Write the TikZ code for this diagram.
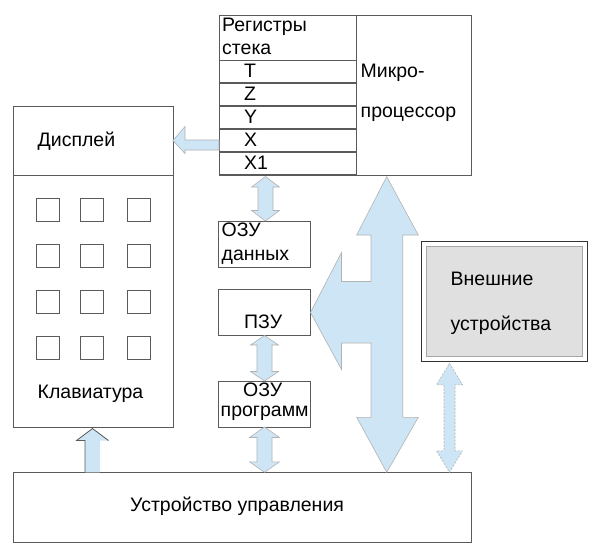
\documentclass[tikz,border=0pt]{standalone}
\usepackage{fontspec}
\setmainfont{Liberation Sans}
\usetikzlibrary{calc}
\definecolor{busblue}{RGB}{206,229,245}
\definecolor{devgray}{RGB}{224,224,224}
\definecolor{linegray}{RGB}{90,90,90}
\newcommand\vdarr[6][]{% style, top, bottom, body half, head half, head length
  \path[arr,#1] let \p1=(#2), \p2=(#3) in
    (\x1,\y1) -- (\x1+#5,\y1-#6) -- (\x1+#4,\y1-#6) -- (\x1+#4,\y2+#6)
    -- (\x1+#5,\y2+#6) -- (\x1,\y2) -- (\x1-#5,\y2+#6) -- (\x1-#4,\y2+#6)
    -- (\x1-#4,\y1-#6) -- (\x1-#5,\y1-#6) -- cycle;}
\begin{document}
\begin{tikzpicture}[x=1pt,y=-1pt,
  box/.style={draw=linegray, line width=0.8pt, fill=white, inner sep=0pt, outer sep=0pt, anchor=north west},
  txt/.style={font=\fontsize{19.5}{22}\selectfont, inner sep=0pt, anchor=base west},
  arr/.style={fill=busblue, draw=gray!60, line width=0.6pt, line join=miter},
  key/.style={draw=linegray, line width=0.7pt, inner sep=0pt, minimum size=23pt, anchor=north west}]
\useasboundingbox[fill=white] (0,0) rectangle (600,557);

% microprocessor
\node[box, minimum width=252pt, minimum height=160pt] (mp) at (219,15) {};
\node[box, minimum width=137pt, minimum height=45pt] (rhead) at (219,15) {};
\foreach \n/\t [count=\i from 0] in {rT/T,rZ/Z,rY/Y,rX/X,rXa/X1}{
  \node[box, minimum width=137pt, minimum height=22pt] (\n) at (219,60.5+23*\i) {};
  \node[txt, anchor=west] at ($(\n.west)+(25,-0.5)$) {\t};
}
\draw[linegray, line width=0.8pt] (rhead.north east) -- (mp.south -| rhead.east);
\node[txt] (t1) at (222,31.5) {Регистры};
\node[txt] (t2) at (222,54) {стека};
\node[txt] (t3) at (360.5,77) {Микро-};
\node[txt] (t4) at (360.5,117) {процессор};

% display and keyboard
\node[box, minimum width=160pt, minimum height=69pt] (disp) at (13,106) {};
\node[box, minimum width=160pt, minimum height=252pt] (kb) at (13,175) {};
\node[txt] at (37.5,146) {Дисплей};
\node[txt] at (37.5,398) {Клавиатура};
\foreach \c in {35.7,80.3,126.7}{
  \foreach \r in {197.5,243.5,289.5,335.5}{
    \node[key] at (\c,\r) {};
  }
}

% memory boxes
\node[box, minimum width=92pt, minimum height=46pt] (ozud) at (218.5,221) {};
\node[txt] at (221.5,236.5) {ОЗУ};
\node[txt] at (221.5,260) {данных};
\node[box, minimum width=92pt, minimum height=46pt] (pzu) at (218.5,289.5) {};
\node[txt] at (244,328.5) {ПЗУ};
\node[box, minimum width=92pt, minimum height=46pt] (ozup) at (218.5,381) {};
\node[txt] at (243,396.5) {ОЗУ};
\node[txt] at (220.5,416.5) {программ};

% control unit
\node[box, minimum width=458pt, minimum height=70pt] (uu) at (13,472.3) {};
\node[txt] at (130,511.5) {Устройство управления};

% external devices
\node[box, draw=black!80, minimum width=165.5pt, minimum height=119.5pt] (ext) at (421.7,241.7) {};
\node[box, draw=gray!70, fill=devgray, line width=1pt, minimum width=156pt, minimum height=110pt] (exti) at (426.7,246.7) {};
\node[txt] at (450.5,285) {Внешние};
\node[txt] at (450.5,330) {устройства};

% arrows: display <- register X
\path[arr] let \p1=(rX.west), \p2=(disp.east) in
  (\x1,\y1+0.5pt) -- (\x2+12pt,\y1+0.5pt) -- (\x2+12pt,\y1+14pt) -- (\x2,\y1) --
  (\x2+12pt,\y1-13pt) -- (\x2+12pt,\y1-9.5pt) -- (\x1,\y1-9.5pt) -- cycle;

% keyboard <- control unit
\coordinate (kbt) at (92.5,428.5);
\path[fill=busblue] let \p1=(kbt), \p2=(kbt|-uu.north) in
  (\x1,\y1) -- (\x1+16pt,\y1-12pt) -- (\x1+7.5pt,\y1-12pt) -- (\x1+7.5pt,\y2)
  -- (\x1-7.5pt,\y2) -- (\x1-7.5pt,\y1-12pt) -- (\x1-16pt,\y1-12pt) -- cycle;
\draw[linegray, line width=0.8pt] let \p1=(kbt), \p2=(kbt|-uu.north) in
  (\x1-7.5pt,\y2) -- (\x1-7.5pt,\y1-12pt) -- (\x1-16pt,\y1-12pt) -- (\x1,\y1) -- (\x1+16pt,\y1-12pt);

% small double arrows
\coordinate (a1t) at ($(mp.south)+(-79.5,1.5)$);
\vdarr{a1t}{ozud.north}{7.5pt}{14pt}{10.5pt}
\vdarr{pzu.south}{ozup.north}{7.5pt}{14pt}{9.5pt}
\vdarr{ozup.south}{ozup.south|-uu.north}{7.5pt}{15pt}{10.5pt}

% system bus
\coordinate (bt) at (386.7,176.7);
\coordinate (bb) at (bt|-uu.north);
\coordinate (bl) at (pzu.east);
\path[arr] let \p1=(bt), \p2=(bb), \p3=(bl) in
  (\x1,\y1) -- (\x1+31.6pt,\y1-58.3pt) -- (\x1+16pt,\y1-58.3pt) -- (\x1+16pt,\y2+55pt)
  -- (\x1+31.6pt,\y2+55pt) -- (\x1,\y2) -- (\x1-30pt,\y2+55pt) -- (\x1-15.7pt,\y2+55pt)
  -- (\x1-15.7pt,\y3-30.5pt) -- (\x3+31pt,\y3-30.5pt) -- (\x3+31pt,\y3-57pt)
  -- (\x3,\y3) -- (\x3+31pt,\y3+60pt) -- (\x3+31pt,\y3+31pt) -- (\x1-15.7pt,\y3+31pt)
  -- (\x1-15.7pt,\y1-58.3pt) -- (\x1-30pt,\y1-58.3pt) -- cycle;

% dashed double arrow to external devices
\coordinate (dt) at (449.5,363.3);
\vdarr[dashed, dash pattern=on 2pt off 1.5pt]{dt}{dt|-uu.north}{5.5pt}{13pt}{21.5pt}
\end{tikzpicture}
\end{document}
